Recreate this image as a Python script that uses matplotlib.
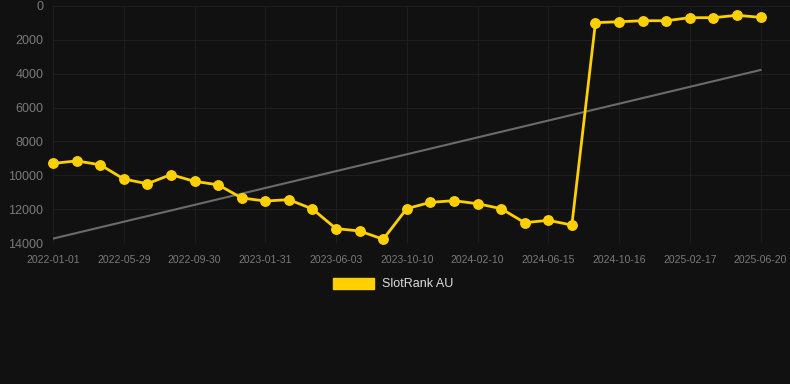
import matplotlib
matplotlib.use("Agg")
import matplotlib.pyplot as plt
import numpy as np

plt.rcParams['font.family'] = ['Liberation Sans', 'DejaVu Sans']

# Rango de SlotRank AU (eje invertido: 0 arriba)
tick_labels = ["2022-01-01", "2022-05-29", "2022-09-30", "2023-01-31", "2023-06-03",
               "2023-10-10", "2024-02-10", "2024-06-15", "2024-10-16", "2025-02-17",
               "2025-06-20"]
rank = [9300, 9150, 9380, 10220, 10500, 9960, 10360, 10560, 11340, 11520,
        11440, 11990, 13150, 13290, 13780, 11970, 11600, 11500, 11680, 11970,
        12800, 12660, 12940, 985, 930, 870, 870, 690, 690, 550, 670]
trend_start = 13740
trend_end = 3780

bg = "#111111"
x = np.arange(len(rank))

fig = plt.figure(figsize=(7.9, 3.84), dpi=100, facecolor=bg)
ax = fig.add_axes([53/790, 1 - 243/384, 1 - 53/790, (243 - 6)/384])
ax.set_facecolor(bg)

ax.plot([x[0], x[-1]], [trend_start, trend_end], color="#6b6b6b", lw=1.5, zorder=2)
ax.plot(x, rank, color="#FFD000", lw=2.0, marker="o", ms=6.8, zorder=3,
        clip_on=False, label="SlotRank AU")

ax.set_xlim(0, 31.25)
ax.set_ylim(14000, 0)
ax.set_yticks(np.arange(0, 14001, 2000))
ax.set_xticks(x[::3])
ax.set_xticklabels(tick_labels)

ax.grid(True, color="#1e1e1e", lw=0.8)
ax.set_axisbelow(True)
for s in ax.spines.values():
    s.set_visible(False)
ax.tick_params(axis="both", length=0, colors="#7a7a7a")
ax.tick_params(axis="y", labelsize=9, pad=7)
ax.tick_params(axis="x", labelsize=7.5, pad=8.5)

leg = fig.legend(handles=[plt.Rectangle((0, 0), 1, 1, color="#FFD000")],
                 labels=["SlotRank AU"], loc="center", bbox_to_anchor=(393/790, 1 - 284/384),
                 frameon=False, fontsize=9, handlelength=3.3, handleheight=1.0,
                 handletextpad=0.6)
for t in leg.get_texts():
    t.set_color("#dddddd")

fig.savefig("out.png", dpi=100, facecolor=bg)
